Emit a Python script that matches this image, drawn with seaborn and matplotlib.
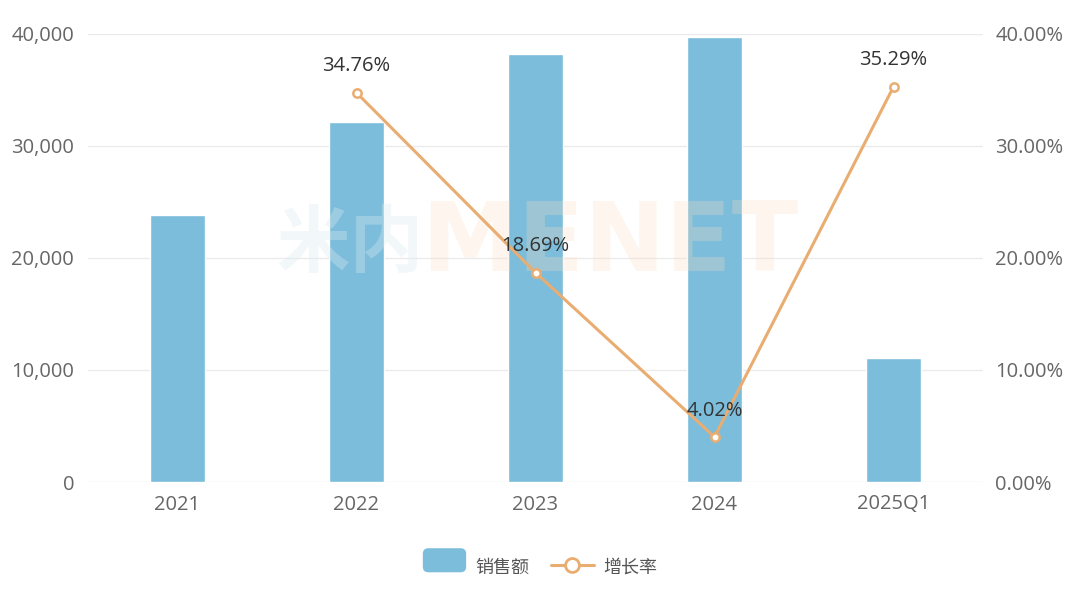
import matplotlib
matplotlib.use('Agg')
import matplotlib.pyplot as plt
from matplotlib.lines import Line2D
from matplotlib.patches import FancyBboxPatch
from matplotlib.legend_handler import HandlerPatch
from matplotlib.ticker import FuncFormatter
import numpy as np
import seaborn as sns

# data
categories = ['2021', '2022', '2023', '2024', '2025Q1']
sales = [23840, 32140, 38210, 39730, 11070]
growth_years = ['2022', '2023', '2024', '2025Q1']
growth = [34.76, 18.69, 4.02, 35.29]

bar_color = '#7BBDDA'
line_color = '#E9AD72'

sns.set_theme(style='white')
plt.rcParams['font.family'] = ['Open Sans', 'Noto Sans CJK SC', 'DejaVu Sans']

fig = plt.figure(figsize=(10.8, 5.89), dpi=100)
ax = fig.add_axes([88/1080, 1-482/589, (983-88)/1080, (482-34)/589])

sns.barplot(x=categories, y=sales, ax=ax, color=bar_color, width=0.31,
            saturation=1, zorder=2)
ax.set_xlim(-0.5, len(categories)-0.5)
ax.set_ylim(0, 40000)
ax.set_yticks(np.arange(0, 40001, 10000))
ax.yaxis.set_major_formatter(FuncFormatter(lambda v, p: f'{int(v):,}'))
ax.grid(axis='y', color='#EBEBEB', linewidth=1, zorder=0)
ax.set_axisbelow(True)
for s in ax.spines.values():
    s.set_visible(False)
ax.tick_params(axis='both', length=0, labelsize=14.5, colors='#666666')
ax.tick_params(axis='x', pad=9)
ax.tick_params(axis='y', pad=10)

ax2 = ax.twinx()
xpos = [categories.index(c) for c in growth_years]
sns.lineplot(x=xpos, y=growth, ax=ax2, color=line_color, linewidth=2.2,
             marker='o', markersize=6, markerfacecolor='white',
             markeredgecolor=line_color, markeredgewidth=1.8, zorder=4)
ax2.set_ylim(0, 40)
ax2.set_yticks(np.arange(0, 41, 10))
ax2.yaxis.set_major_formatter(FuncFormatter(lambda v, p: f'{v:.2f}%'))
for s in ax2.spines.values():
    s.set_visible(False)
ax2.tick_params(axis='y', length=0, labelsize=14.5, colors='#666666', pad=9)
ax2.set_xlim(-0.5, len(categories)-0.5)

for x, g in zip(xpos, growth):
    ax2.annotate(f'{g:.2f}%', (x, g), xytext=(0, 19), textcoords='offset points',
                 ha='center', va='center', fontsize=14.5, color='#333333', zorder=5)

# faint watermark, under the line and labels
ax2.text(0.293, 0.53, '米内', transform=ax2.transAxes, fontsize=53,
         color='#DCEAF2', alpha=0.35, ha='center', va='center',
         fontweight='bold', family=['Noto Sans CJK SC'], zorder=3)
ax2.text(0.583, 0.53, 'MENET', transform=ax2.transAxes, fontsize=70,
         color='#FBDCC4', alpha=0.28, ha='center', va='center',
         fontweight='bold', family=['DejaVu Sans'], zorder=3)


class RoundHandler(HandlerPatch):
    def create_artists(self, legend, orig, xd, yd, w, h, fs, trans):
        p = FancyBboxPatch((xd, yd - 2), w, h + 4,
                           boxstyle='round,pad=0,rounding_size=4',
                           facecolor=bar_color, edgecolor='none', transform=trans)
        return [p]


bar_handle = FancyBboxPatch((0, 0), 1, 1, facecolor=bar_color)
line_handle = Line2D([], [], color=line_color, linewidth=2.2, marker='o',
                     markersize=10, markerfacecolor='white',
                     markeredgecolor=line_color, markeredgewidth=2)
leg = fig.legend([bar_handle, line_handle], ['销售额', '增长率'], loc='center',
                 bbox_to_anchor=(0.5, 1-567/589), ncol=2, frameon=False,
                 fontsize=13, handlelength=2.4, handleheight=1.2,
                 columnspacing=1.2, handletextpad=0.5,
                 handler_map={FancyBboxPatch: RoundHandler()})
for t in leg.get_texts():
    t.set_color('#555555')
    t.set_family(['Noto Sans CJK SC', 'DejaVu Sans'])

fig.savefig('out.png', dpi=100, facecolor='white')
